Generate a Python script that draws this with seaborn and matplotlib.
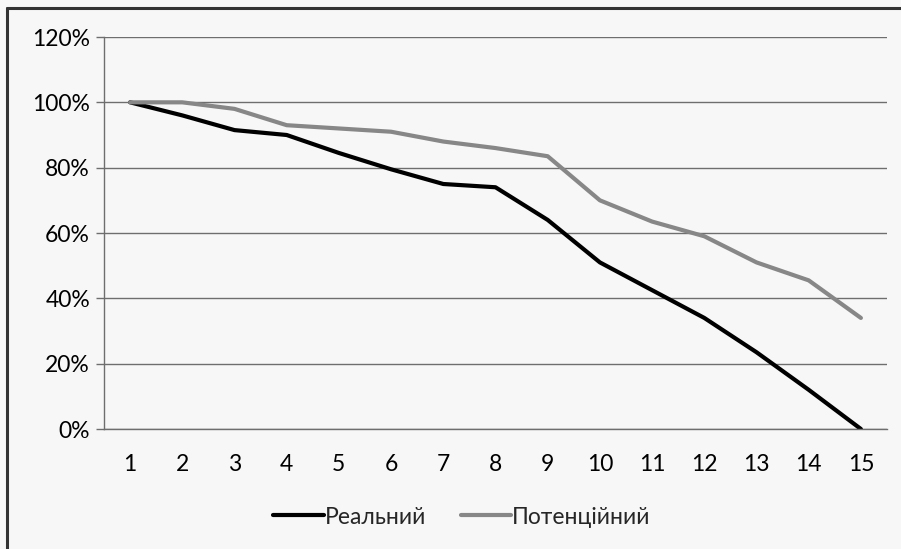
import matplotlib
matplotlib.use("Agg")
import matplotlib.pyplot as plt
import seaborn as sns
import pandas as pd
from matplotlib.lines import Line2D
from matplotlib.ticker import FixedLocator, FuncFormatter

# Series values (%) per period
periods = list(range(1, 16))
real = [100, 96, 91.5, 90, 84.5, 79.5, 75, 74, 64, 51, 42.5, 34, 23.5, 12, 0]
potential = [100, 100, 98, 93, 92, 91, 88, 86, 83.5, 70, 63.5, 59, 51, 45.5, 34]
series_names = ["Реальний", "Потенційний"]
series_colors = ["#000000", "#878787"]
y_ticks = [0, 20, 40, 60, 80, 100, 120]

df = pd.DataFrame({
    "period": periods * 2,
    "value": real + potential,
    "series": [series_names[0]] * len(periods) + [series_names[1]] * len(periods),
})

sns.set_style("white")
plt.rcParams["font.family"] = ["Lato", "DejaVu Sans"]

bg = "#f7f7f7"
lw = 3.0
fs = 16.5
fig = plt.figure(figsize=(9.01, 5.49), dpi=100, facecolor=bg)
ax = fig.add_axes([104 / 901, 1 - 429 / 549, (887 - 104) / 901, (429 - 37) / 549])
ax.set_facecolor(bg)

sns.lineplot(data=df, x="period", y="value", hue="series",
             palette=dict(zip(series_names, series_colors)),
             linewidth=lw, ax=ax, legend=False, sort=False)
for ln in ax.lines:
    ln.set_solid_capstyle("round")
    ln.set_solid_joinstyle("round")

grid_c = "#6e6e6e"
ax.set_xlim(0.5, 15.5)
ax.set_ylim(0, 120)
ax.yaxis.set_major_locator(FixedLocator(y_ticks))
ax.yaxis.set_major_formatter(FuncFormatter(lambda v, p: f"{int(v)}%"))
ax.grid(axis="y", color=grid_c, linewidth=1.0)
ax.set_axisbelow(True)

ax.set_xticks(periods)
ax.set_xticklabels([str(p) for p in periods])
ax.set_xticks([p + 0.5 for p in range(0, 16)], minor=True)
ax.tick_params(axis="x", which="major", length=0, pad=18, labelsize=fs, colors="#000000")
ax.tick_params(axis="x", which="minor", length=6, width=1.0, color=grid_c, direction="out")
ax.tick_params(axis="y", which="major", length=6, width=1.0, color=grid_c, pad=4,
               labelsize=fs, labelcolor="#000000", left=True)

for side in ["top", "right"]:
    ax.spines[side].set_visible(False)
for side in ["left", "bottom"]:
    ax.spines[side].set_color(grid_c)
    ax.spines[side].set_linewidth(1.0)

ax.set_xlabel("")
ax.set_ylabel("")

handles = [Line2D([0], [0], color=c, linewidth=lw, solid_capstyle="round") for c in series_colors]
fig.legend(handles, series_names, loc="center", bbox_to_anchor=(462 / 901, 1 - 517 / 549),
           ncol=2, frameon=False, fontsize=fs, handlelength=2.2, handletextpad=0.05,
           columnspacing=1.5)

# Frame along the top and left edges
fig.add_artist(Line2D([6.5 / 901, 6.5 / 901], [0, 1 - 7.5 / 549], transform=fig.transFigure,
                      color="#333333", linewidth=2.2))
fig.add_artist(Line2D([6.5 / 901, 1], [1 - 7.5 / 549, 1 - 7.5 / 549], transform=fig.transFigure,
                      color="#333333", linewidth=2.2))

fig.savefig("out.png", dpi=100, facecolor=bg)
